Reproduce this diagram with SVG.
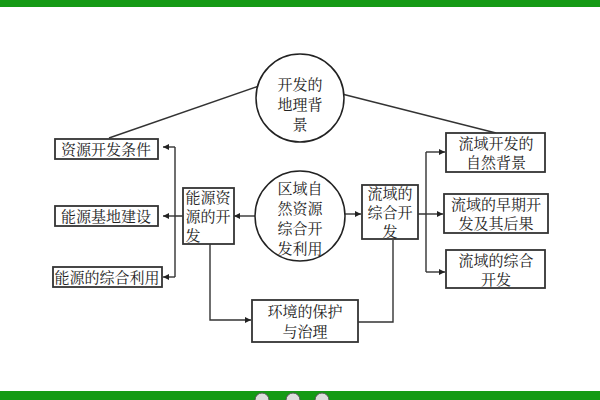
<svg xmlns="http://www.w3.org/2000/svg" width="600" height="400" viewBox="0 0 600 400">
<defs>
<style>
.b{fill:#fff;stroke:#333;stroke-width:1.8}
.c{fill:#fff;stroke:#222;stroke-width:1.5}
.l{fill:none;stroke:#333;stroke-width:1.4}
text{font-family:"Noto Serif CJK SC","Noto Sans CJK SC",serif;font-size:15px;fill:#222;text-anchor:middle}
</style>
<marker id="a" viewBox="0 0 10 10" refX="10" refY="5" markerWidth="7" markerHeight="6" orient="auto" markerUnits="userSpaceOnUse"><path d="M0,0L10,5L0,10z" fill="#222"/></marker>
</defs>
<rect width="600" height="400" fill="#fff"/>
<rect width="600" height="7" fill="#159a15"/>
<rect y="391" width="600" height="9" fill="#159a15"/>
<g fill="#ddd" stroke="#555"><circle cx="262" cy="400" r="7"/><circle cx="293" cy="400" r="7"/><circle cx="322" cy="400" r="7"/></g>
<g id="connectors">
<path class="l" d="M109,138L259,86"/>
<path class="l" d="M342,94L496,133"/>
<path class="l" d="M183,216H175M175,147V277"/>
<path class="l" d="M175,147H163" marker-end="url(#a)"/>
<path class="l" d="M175,216H163" marker-end="url(#a)"/>
<path class="l" d="M175,277H163" marker-end="url(#a)"/>
<path class="l" d="M255,216H234" marker-end="url(#a)"/>
<path class="l" d="M345,214H361" marker-end="url(#a)"/>
<path class="l" d="M210,244V320H251" marker-end="url(#a)"/>
<path class="l" d="M358,322H393V240"/>
<path class="l" d="M418,214H426M426,152V272"/>
<path class="l" d="M426,152H445" marker-end="url(#a)"/>
<path class="l" d="M426,214H443" marker-end="url(#a)"/>
<path class="l" d="M426,272H445" marker-end="url(#a)"/>
</g>
<g id="n1"><circle class="c" cx="300" cy="98" r="44"/><text x="300" y="90">开发的</text><text x="300" y="110">地理背</text><text x="300" y="130">景</text></g>
<g id="n2"><circle class="c" cx="300" cy="216" r="45"/><text x="300" y="194">区域自</text><text x="300" y="214">然资源</text><text x="300" y="234">综合开</text><text x="300" y="254">发利用</text></g>
<g id="n3"><rect class="b" x="55" y="139" width="103" height="20"/><text x="106" y="155">资源开发条件</text></g>
<g id="n4"><rect class="b" x="55" y="206" width="103" height="20"/><text x="106" y="222">能源基地建设</text></g>
<g id="n5"><rect class="b" x="53" y="267" width="109" height="20"/><text x="107" y="283">能源的综合利用</text></g>
<g id="n6"><rect class="b" x="183" y="188" width="51" height="56"/><text x="208" y="203">能源资</text><text x="208" y="222">源的开</text><text x="193" y="241">发</text></g>
<g id="n7"><rect class="b" x="362" y="185" width="56" height="54"/><text x="390" y="199">流域的</text><text x="390" y="218">综合开</text><text x="390" y="237">发</text></g>
<g id="n8"><rect class="b" x="252" y="300" width="106" height="42"/><text x="305" y="317">环境的保护</text><text x="305" y="337">与治理</text></g>
<g id="n9"><rect class="b" x="446" y="133" width="99" height="39"/><text x="496" y="149">流域开发的</text><text x="496" y="168">自然背景</text></g>
<g id="n10"><rect class="b" x="444" y="194" width="104" height="39"/><text x="496" y="210">流域的早期开</text><text x="496" y="229">发及其后果</text></g>
<g id="n11"><rect class="b" x="446" y="250" width="99" height="38"/><text x="496" y="266">流域的综合</text><text x="496" y="285">开发</text></g>
</svg>
